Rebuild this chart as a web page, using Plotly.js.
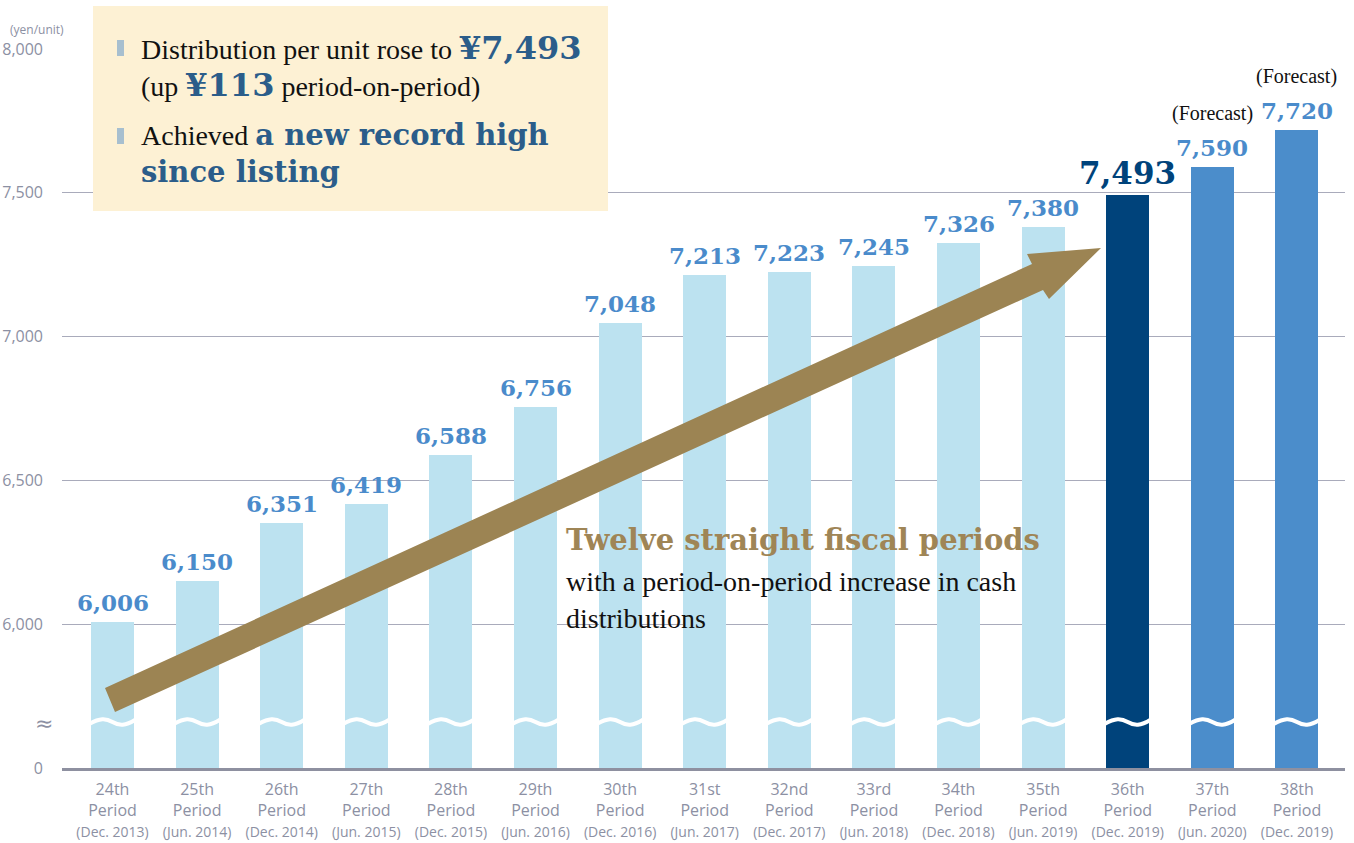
<!DOCTYPE html>
<html>
<head>
<meta charset="utf-8">
<script src="https://cdn.plot.ly/plotly-3.0.1.min.js"></script>
<style>html,body{margin:0;padding:0;background:#fff;}#chart{width:1354px;height:843px;}</style>
</head>
<body>
<div id="chart"></div>
<script>
// ---- data ----
const categories = ["24th","25th","26th","27th","28th","29th","30th","31st","32nd","33rd","34th","35th","36th","37th","38th"];
const periods = ["Dec. 2013","Jun. 2014","Dec. 2014","Jun. 2015","Dec. 2015","Jun. 2016","Dec. 2016","Jun. 2017","Dec. 2017","Jun. 2018","Dec. 2018","Jun. 2019","Dec. 2019","Jun. 2020","Dec. 2019"];
const values = [6006,6150,6351,6419,6588,6756,7048,7213,7223,7245,7326,7380,7493,7590,7720];
const kinds = ["actual","actual","actual","actual","actual","actual","actual","actual","actual","actual","actual","actual","latest","forecast","forecast"];
const yTickVals = [5500,6000,6500,7000,7500,8000];
const yTickText = ["0","6,000","6,500","7,000","7,500","8,000"];

// ---- styles ----
const colorFor = {actual:"#bce2f0", latest:"#00437b", forecast:"#4b8dcb"};
const labelColorFor = {actual:"#4a8bcb", latest:"#00437b", forecast:"#4a8bcb"};
const gray = "#8c90a3";
const SERIF = "'Liberation Serif', 'DejaVu Serif', serif";
const BOLDSERIF = "'DejaVu Serif', serif";
const SANS = "'Open Sans', 'Noto Sans', sans-serif";

const W = 1354, H = 843;
const M = {l:62, r:9, t:49, b:75};
const PW = W - M.l - M.r, PH = H - M.t - M.b;
function PX(px){ return (px - M.l) / PW; }
function PY(py){ return (H - M.b - py) / PH; }

const trace = {
  type: "bar",
  x: categories,
  y: values,
  width: 0.508,
  marker: {color: kinds.map(k => colorFor[k])},
  hoverinfo: "x+y"
};

const annotations = [];
values.forEach((v, i) => {
  const big = kinds[i] === "latest";
  annotations.push({
    x: categories[i], y: v, xref: "x", yref: "y",
    yanchor: "bottom", yshift: big ? 2 : 4, showarrow: false,
    text: v.toLocaleString("en-US"),
    font: {family: BOLDSERIF, size: big ? 31 : 23, color: labelColorFor[kinds[i]], weight: "bold"}
  });
  if (kinds[i] === "forecast") {
    annotations.push({
      x: categories[i], y: v, xref: "x", yref: "y",
      yanchor: "bottom", yshift: 40, showarrow: false,
      text: "(Forecast)",
      font: {family: SERIF, size: 20, color: "#111"}
    });
  }
});

// axis decorations
annotations.push({xref:"paper", yref:"paper", x: PX(8), y: PY(30), xanchor:"left", yanchor:"middle",
  showarrow:false, text:"(yen/unit)", font:{family:SANS, size:12, color:gray}});
annotations.push({xref:"paper", yref:"paper", x: PX(44), y: PY(723), xanchor:"center", yanchor:"middle",
  showarrow:false, text:"≈", font:{family:"'DejaVu Sans', sans-serif", size:22, color:gray}});

// info box text
const hl = (t, s) => `<span style="font-family:'DejaVu Serif';font-weight:bold;font-size:${s}px;color:#2b5d8a">${t}</span>`;
const boxLines = [
  {y:48, t:"Distribution per unit rose to " + hl("¥7,493", 32)},
  {y:85, t:"(up " + hl("¥113", 32) + " period-on-period)"},
  {y:135, t:"Achieved " + hl("a new record high", 29)},
  {y:172, t:hl("since listing", 29)}
];
boxLines.forEach(l => annotations.push({xref:"paper", yref:"paper", x: PX(139), y: PY(l.y),
  xanchor:"left", yanchor:"middle", showarrow:false, text:l.t,
  font:{family:SERIF, size:28, color:"#111"}}));

// message text
annotations.push({xref:"paper", yref:"paper", x: PX(564), y: PY(540), xanchor:"left", yanchor:"middle",
  showarrow:false, text:"Twelve straight fiscal periods",
  font:{family:BOLDSERIF, size:29, color:"#9f8556", weight:"bold"}});
annotations.push({xref:"paper", yref:"paper", x: PX(564), y: PY(581), xanchor:"left", yanchor:"middle",
  showarrow:false, text:"with a period-on-period increase in cash",
  font:{family:SERIF, size:28, color:"#111"}});
annotations.push({xref:"paper", yref:"paper", x: PX(564), y: PY(618), xanchor:"left", yanchor:"middle",
  showarrow:false, text:"distributions",
  font:{family:SERIF, size:28, color:"#111"}});

const shapes = [];
// info box
shapes.push({type:"rect", xref:"paper", yref:"paper", x0:PX(93), x1:PX(608), y0:PY(211), y1:PY(6),
  fillcolor:"#fdf1d4", line:{width:0}, layer:"above"});
// bullets
[[40,56],[128,144]].forEach(b => shapes.push({type:"rect", xref:"paper", yref:"paper",
  x0:PX(117), x1:PX(124), y0:PY(b[1]), y1:PY(b[0]), fillcolor:"#a7bfcf", line:{width:0}, layer:"above"}));

// break waves across each bar
categories.forEach((c, i) => {
  const a = i - 0.27, b = i + 0.27, yc = 5660;
  shapes.push({type:"path", xref:"x", yref:"y", layer:"above",
    path:`M ${a},${yc-6} C ${i-0.15},${yc+14} ${i-0.08},${yc+14} ${i},${yc} S ${i+0.15},${yc-14} ${b},${yc+8}`,
    line:{color:"#ffffff", width:4}});
});

// trend arrow
const arrowPts = [[115,712],[1043,290],[1049,299],[1101,248],[1027,254],[1032,264],[105,688]];
shapes.push({type:"path", xref:"paper", yref:"paper", layer:"above",
  path: "M " + arrowPts.map(p => PX(p[0]) + "," + PY(p[1])).join(" L ") + " Z",
  fillcolor:"#9c8453", line:{width:0}});

const layout = {
  width: W, height: H,
  margin: M,
  paper_bgcolor: "#ffffff", plot_bgcolor: "#ffffff",
  showlegend: false,
  bargap: 0,
  xaxis: {
    type: "category",
    range: [-0.597, 14.568],
    tickvals: categories,
    ticktext: categories.map((c, i) => `${c}<br>Period<br><span style="font-size:14px">(${periods[i]})</span>`),
    tickfont: {family: SANS, size: 16, color: gray},
    ticks: "", showgrid: false, ticklabelstandoff: 5,
    showline: true, linecolor: "#8e90a0", linewidth: 3,
    fixedrange: true
  },
  yaxis: {
    range: [5500, 8000],
    tickvals: yTickVals, ticktext: yTickText,
    tickfont: {family: SANS, size: 16, color: gray},
    ticks: "", ticklabelstandoff: 18,
    showgrid: true, gridcolor: "#a9abbb", gridwidth: 1,
    zeroline: false, showline: false,
    fixedrange: true
  },
  annotations: annotations,
  shapes: shapes
};

Plotly.newPlot("chart", [trace], layout, {displayModeBar: false, staticPlot: true});
</script>
</body>
</html>
